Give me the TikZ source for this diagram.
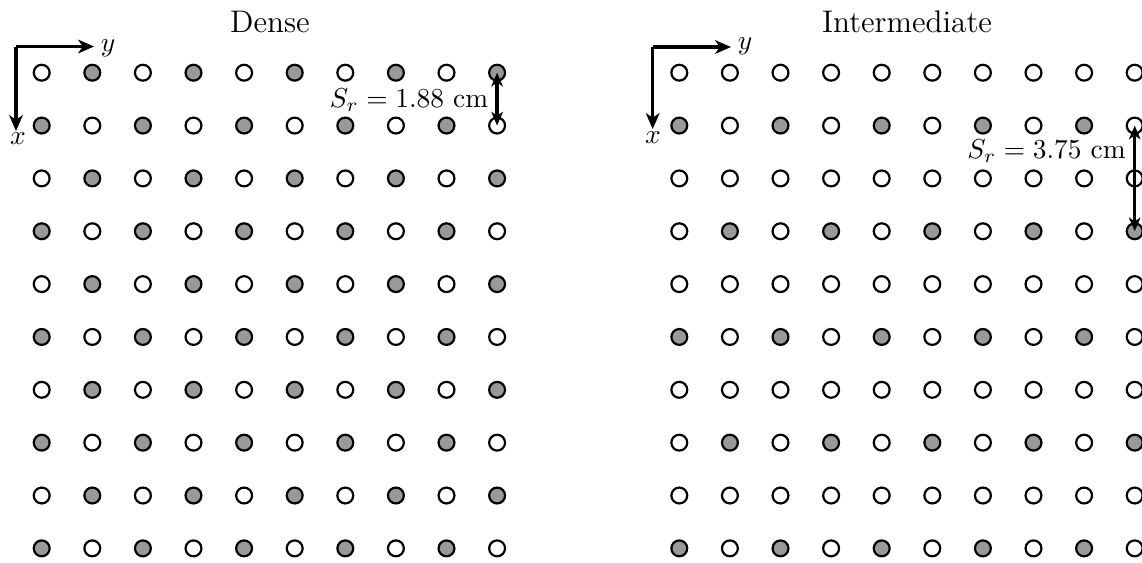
\documentclass[tikz,border=0pt]{standalone}
\usetikzlibrary{arrows.meta}
\definecolor{dotgray}{gray}{0.6}
\begin{document}
\begin{tikzpicture}[x=0.365pt,y=-0.365pt,
  dot/.style={circle,draw=black,line width=0.8pt,minimum size=5.8pt,inner sep=0pt,fill=white},
  dotg/.style={dot,fill=dotgray},
  axisarrow/.style={line width=1.25pt,-{Stealth[length=5.8pt,width=5pt,inset=1.7pt]}},
  sarrow/.style={line width=1.25pt,{Stealth[length=5pt,width=4.2pt,inset=1.4pt]}-{Stealth[length=5pt,width=4.2pt,inset=1.4pt]}},
  title/.style={font=\fontsize{11.4}{14}\selectfont,anchor=base},
  lab/.style={font=\fontsize{10}{12}\selectfont,anchor=base}]
\useasboundingbox (0,0) rectangle (1142,562);
% Dense grid
\foreach \r in {0,...,9}{
  \foreach \c in {0,...,9}{
    \pgfmathtruncatemacro{\g}{mod(\r+\c,2)}
    \ifnum\g=1
      \node[dotg] (L-\r-\c) at ({41.7+50.6*\c},{72.7+52.85*\r}) {};
    \else
      \node[dot] (L-\r-\c) at ({41.7+50.6*\c},{72.7+52.85*\r}) {};
    \fi
  }
}
% Intermediate grid
\foreach \r in {0,...,9}{
  \foreach \c in {0,...,9}{
    \pgfmathtruncatemacro{\odd}{mod(\r,2)}
    \pgfmathtruncatemacro{\g}{\odd*(1-mod((\r-1)/2+\c,2))}
    \ifnum\g=1
      \node[dotg] (R-\r-\c) at ({679.3+50.6*\c},{72.7+52.85*\r}) {};
    \else
      \node[dot] (R-\r-\c) at ({679.3+50.6*\c},{72.7+52.85*\r}) {};
    \fi
  }
}
% titles
\node[title] (tL) at (270,32) {Dense};
\node[title] (tR) at (907,32) {Intermediate};
% axes left
\coordinate (oL) at (16,46.5);
\coordinate (yL) at (94,46.5);
\coordinate (xL) at (16,131);
\draw[axisarrow] (oL) -- (yL);
\draw[axisarrow] (oL) -- (xL);
\node[font=\fontsize{10}{12}\selectfont] (ylabL) at (108,48) {$y$};
\node[font=\fontsize{10}{12}\selectfont] (xlabL) at (18,139) {$x$};
% axes right
\coordinate (oR) at (652.7,47);
\coordinate (yR) at (731,47);
\coordinate (xR) at (652.7,129);
\draw[axisarrow] (oR) -- (yR);
\draw[axisarrow] (oR) -- (xR);
\node[font=\fontsize{10}{12}\selectfont] (ylabR) at (745,46) {$y$};
\node[font=\fontsize{10}{12}\selectfont] (xlabR) at (653,138) {$x$};
% spacing arrows
\draw[sarrow] (L-0-9.center) -- (L-1-9.center);
\node[lab] (sL) at (409,107) {$S_r = 1.88$ cm};
\draw[sarrow] (R-1-9.center) -- (R-3-9.center);
\node[lab] (sR) at (1046.5,158) {$S_r = 3.75$ cm};
\end{tikzpicture}
\end{document}
